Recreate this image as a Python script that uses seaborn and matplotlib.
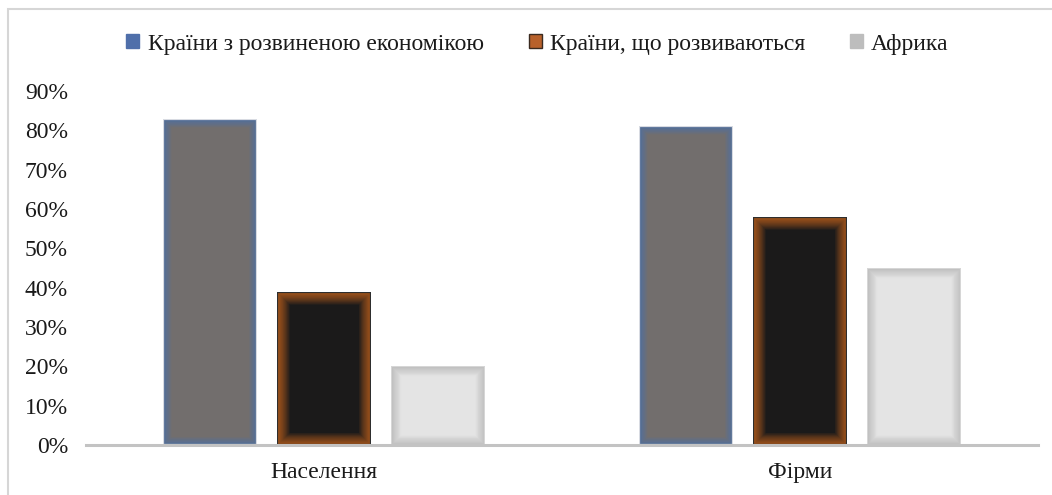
import matplotlib
matplotlib.use("Agg")
import matplotlib.pyplot as plt
import matplotlib.patheffects as pe
from matplotlib.patches import Patch, Rectangle
from matplotlib.ticker import PercentFormatter
import pandas as pd
import seaborn as sns

# Data
categories = ["Населення", "Фірми"]
series = ["Країни з розвиненою економікою", "Країни, що розвиваються", "Африка"]
developed = [0.83, 0.81]
developing = [0.39, 0.58]
africa = [0.20, 0.45]
y_ticks = [0.0, 0.1, 0.2, 0.3, 0.4, 0.5, 0.6, 0.7, 0.8, 0.9]

# Styling per series: bar fill, inner glow colour/strength, outline colour, legend swatch
fills = ["#726e6d", "#1b1a1a", "#e4e4e4"]
glows = ["#5474ad", "#c0652b", "#bcbcbc"]
glow_alphas = [0.055, 0.06, 0.04]
outlines = ["#d8dbe2", "#2e2e2e", "#d6d6d6"]
glow_widths = [6, 9, 7]
swatches = ["#4f6faa", "#b8612b", "#bdbdbd"]
swatch_edges = ["#4f6faa", "#3a2a20", "#bdbdbd"]

df = pd.DataFrame({
    "category": categories * 3,
    "value": developed + developing + africa,
    "series": [s for s in series for _ in categories],
})


class InnerGlow(pe.AbstractPathEffect):
    """Fill the path, then lay soft strokes over its edge (clipped to the bar)."""

    def __init__(self, color, width, outline, alpha, steps=40):
        super().__init__()
        self.color = color
        self.width = width
        self.outline = outline
        self.steps = steps
        self.alpha = alpha

    def draw_path(self, renderer, gc, tpath, affine, rgbFace=None):
        renderer.draw_path(gc, tpath, affine, rgbFace)
        for i in range(self.steps):
            t = i / self.steps
            g = renderer.new_gc()
            g.copy_properties(gc)
            g.set_linewidth(2 * self.width * (1 - t) ** 2)
            g.set_foreground(self.color)
            g.set_alpha(self.alpha)
            renderer.draw_path(g, tpath, affine, None)
            g.restore()
        g = renderer.new_gc()
        g.copy_properties(gc)
        g.set_linewidth(1.6)
        g.set_foreground(self.outline)
        g.set_alpha(1.0)
        renderer.draw_path(g, tpath, affine, None)
        g.restore()


sns.set_theme(style="white")
plt.rcParams["font.family"] = ["Liberation Serif", "DejaVu Serif"]
text_color = "#1a1a1a"
fs = 17

fig = plt.figure(figsize=(10.52, 4.95), dpi=100)
ax = fig.add_axes([0.0817, 0.101, 0.905, 0.715])

sns.barplot(data=df, x="category", y="value", hue="series", order=categories,
            hue_order=series, palette=fills, width=0.72, gap=0.18,
            saturation=1, legend=False, ax=ax, linewidth=0)

for container, gcol, w, oc, a in zip(ax.containers, glows, glow_widths, outlines, glow_alphas):
    for bar in container:
        bar.set_clip_path(bar)
        bar.set_path_effects([InnerGlow(gcol, w, oc, a)])

ax.set_ylim(0, 0.9)
ax.set_xlim(-0.5, 1.5)
ax.set_yticks(y_ticks)
ax.yaxis.set_major_formatter(PercentFormatter(1.0, decimals=0))
ax.set_xlabel("")
ax.set_ylabel("")
for side in ["top", "right", "left"]:
    ax.spines[side].set_visible(False)
ax.spines["bottom"].set_color("#c3c3c3")
ax.spines["bottom"].set_linewidth(2.2)
ax.tick_params(axis="y", length=0, pad=13, labelsize=fs, labelcolor=text_color)
ax.tick_params(axis="x", length=0, pad=12, labelsize=fs, labelcolor=text_color)

handles = [Patch(facecolor=c, edgecolor=e, linewidth=1) for c, e in zip(swatches, swatch_edges)]
fig.legend(handles, series, loc="center", bbox_to_anchor=(0.511, 0.911), ncol=3,
           frameon=False, handlelength=0.55, handleheight=0.55, handletextpad=0.35,
           columnspacing=1.9, fontsize=fs, labelcolor=text_color)

# Chart frame (left and top edges visible)
fig.add_artist(Rectangle((8 / 1052, -0.1), 1.2, 1.0 - 9 / 495 + 0.1,
                         transform=fig.transFigure, fill=False,
                         edgecolor="#d6d6d6", linewidth=1.5))

fig.savefig("out.png", dpi=100)
